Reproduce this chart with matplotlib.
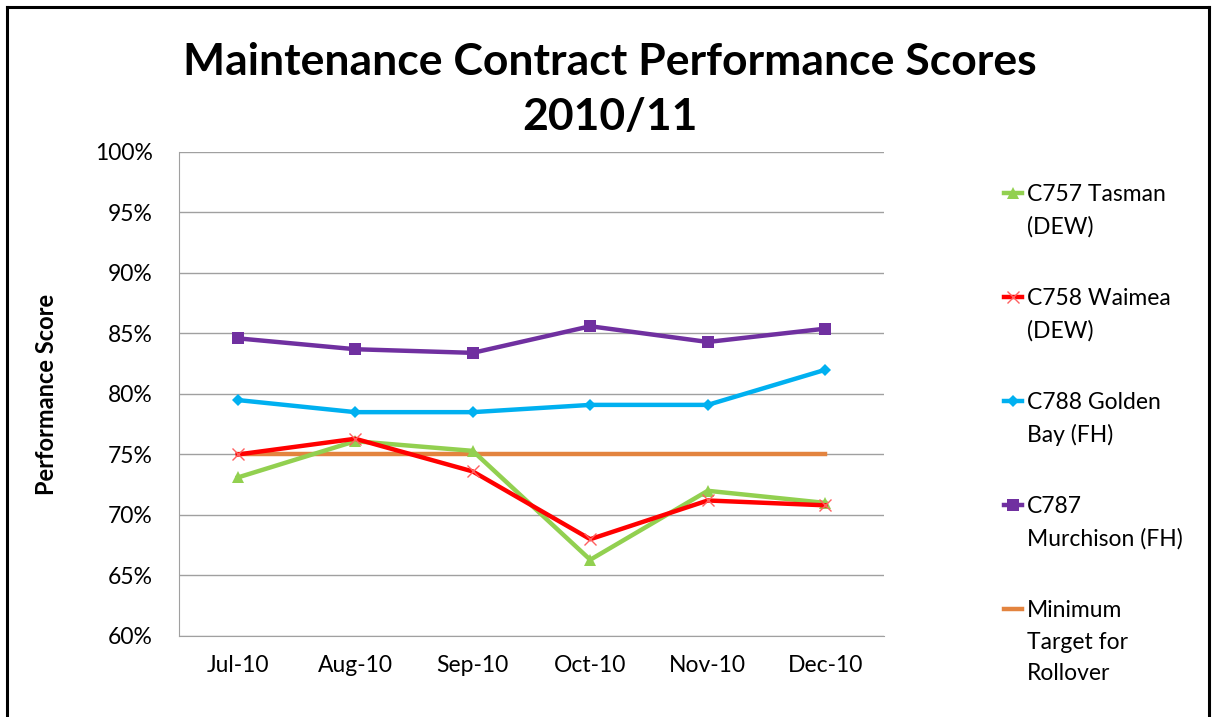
import matplotlib
matplotlib.use("Agg")
import matplotlib.pyplot as plt
from matplotlib.lines import Line2D
from matplotlib.ticker import FuncFormatter, MultipleLocator

plt.rcParams['font.family'] = ['Lato', 'DejaVu Sans']

months = ["Jul-10", "Aug-10", "Sep-10", "Oct-10", "Nov-10", "Dec-10"]
tasman = [73.1, 76.1, 75.3, 66.3, 72.0, 71.0]
waimea = [75.0, 76.3, 73.6, 68.0, 71.2, 70.8]
golden_bay = [79.5, 78.5, 78.5, 79.1, 79.1, 82.0]
murchison = [84.6, 83.7, 83.4, 85.6, 84.3, 85.4]
target = [75, 75, 75, 75, 75, 75]

series = [
    ("C757 Tasman\n(DEW)", tasman, "#92D050", "^", 9),
    ("C758 Waimea\n(DEW)", waimea, "#FF0000", "x", 8),
    ("C788 Golden\nBay (FH)", golden_bay, "#00B0F0", "D", 6.5),
    ("C787\nMurchison (FH)", murchison, "#7030A0", "s", 8.5),
    ("Minimum\nTarget for\nRollover", target, "#E3843F", None, 0),
]

W, H = 1212, 717
fig = plt.figure(figsize=(W / 100, H / 100), dpi=100)
ax = fig.add_axes([179 / W, 1 - 636 / H, (884 - 179) / W, (636 - 152) / H])

x = list(range(len(months)))
for label, vals, color, marker, ms in series:
    if marker == "x":
        ax.plot(x, vals, color=color, lw=3.2, marker=marker, ms=ms,
                markeredgewidth=1.0, markeredgecolor="#FF6060", zorder=3)
    else:
        ax.plot(x, vals, color=color, lw=3.2, marker=marker, ms=ms,
                markeredgewidth=0, zorder=3 if marker else 2)

ax.set_xlim(-0.5, len(months) - 0.5)
ax.set_ylim(60, 100)
ax.yaxis.set_major_locator(MultipleLocator(5))
ax.yaxis.set_major_formatter(FuncFormatter(lambda v, p: f"{v:.0f}%"))
ax.set_xticks(x)
ax.set_xticklabels(months)
ax.tick_params(axis='both', length=0, labelsize=16.5, colors="#000000")
ax.tick_params(axis='x', pad=14)
ax.tick_params(axis='y', pad=19)
ax.grid(axis='y', color="#A0A0A0", lw=1.0)
ax.set_axisbelow(True)
for s in ["top", "right"]:
    ax.spines[s].set_visible(False)
ax.spines["left"].set_color("#A0A0A0")
ax.spines["bottom"].set_color("#A0A0A0")
ax.set_ylabel("Performance Score", fontsize=17, fontweight="bold")
ax.yaxis.set_label_coords((58 - 179) / (884 - 179), 0.5)

fig.text(610 / W, 1 - 62 / H, "Maintenance Contract Performance Scores",
         ha="center", va="center", fontsize=32, fontweight="bold")
fig.text(610 / W, 1 - 117 / H, "2010/11",
         ha="center", va="center", fontsize=32, fontweight="bold")

# legend drawn manually so the key sits at the first text line
y0 = 193
for i, (label, vals, color, marker, ms) in enumerate(series):
    yc_px = y0 + i * 104
    yc = 1 - yc_px / H
    fig.add_artist(Line2D([1004 / W, 1022 / W], [yc, yc], color=color, lw=3.2,
                          transform=fig.transFigure))
    if marker:
        fig.add_artist(Line2D([1013 / W], [yc], color=color, marker=marker,
                              ms=ms, markeredgewidth=1.0 if marker == "x" else 0,
                              markeredgecolor="#FF6060" if marker == "x" else color,
                              transform=fig.transFigure))
    fig.text(1027 / W, 1 - (yc_px - 9) / H, label, ha="left", va="top",
             fontsize=16.5, linespacing=1.62, transform=fig.transFigure)

# outer frame
for xs, ys in [([7 / W, 7 / W], [0, 1 - 7 / H]),
               ([7 / W, 1209 / W], [1 - 7 / H, 1 - 7 / H]),
               ([1209 / W, 1209 / W], [0, 1 - 7 / H])]:
    fig.add_artist(Line2D(xs, ys, color="black", lw=2.2, transform=fig.transFigure))

fig.savefig("out.png", dpi=100)
